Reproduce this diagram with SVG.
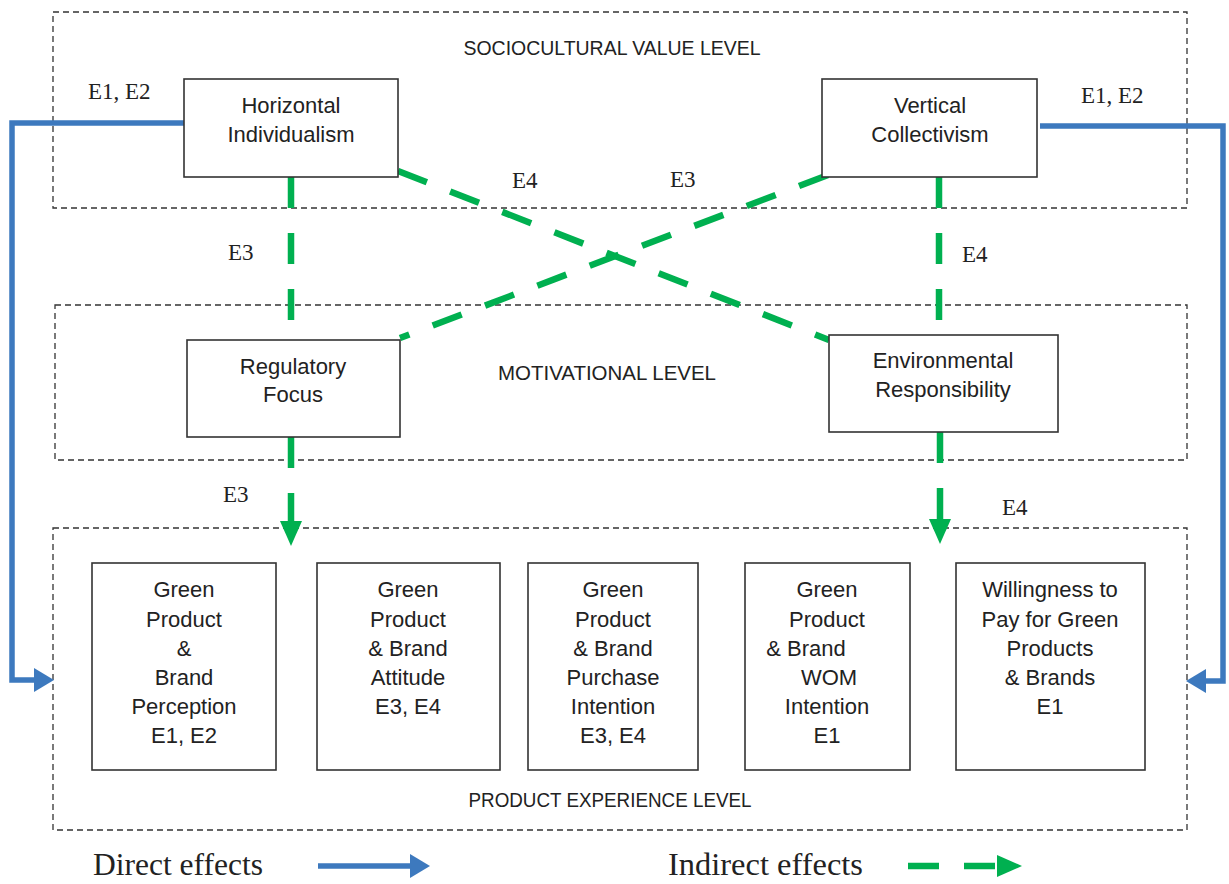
<svg xmlns="http://www.w3.org/2000/svg" width="1229" height="884" viewBox="0 0 1229 884">
  <style>
    .level { fill: none; stroke: #333; stroke-width: 1.3; stroke-dasharray: 6 4; }
    .node { fill: #fff; stroke: #333; stroke-width: 1.6; }
    .ntext { font-family: "Liberation Sans", Arial, sans-serif; font-size: 22px; fill: #222; text-anchor: middle; }
    .ltitle { font-family: "Liberation Sans", Arial, sans-serif; font-size: 19.5px; fill: #222; text-anchor: middle; }
    .elabel { font-family: "Liberation Serif", "DejaVu Serif", serif; font-size: 23px; fill: #222; }
    .legend { font-family: "Liberation Serif", "DejaVu Serif", serif; font-size: 31px; fill: #222; }
    .direct { fill: none; stroke: #3d79be; stroke-width: 5.5; stroke-linejoin: miter; }
    .indirect { fill: none; stroke: #00b050; stroke-width: 6.5; stroke-dasharray: 31 25; }
  </style>
  <defs>
    <marker id="headBlue" markerUnits="userSpaceOnUse" markerWidth="20" markerHeight="26" refX="0" refY="13" orient="auto">
      <polygon points="0,1 20,13 0,25" fill="#3d79be"/>
    </marker>
    <marker id="headGreen" markerUnits="userSpaceOnUse" markerWidth="26" markerHeight="22" refX="0" refY="11" orient="auto">
      <polygon points="0,0 25,11 0,22" fill="#00b050"/>
    </marker>
  </defs>

  <rect width="1229" height="884" fill="#fff"/>

  <!-- level frames -->
  <g id="levels">
    <rect class="level" x="53" y="12" width="1134" height="196"/>
    <text class="ltitle" x="612" y="55" textLength="297" lengthAdjust="spacingAndGlyphs">SOCIOCULTURAL VALUE LEVEL</text>
    <rect class="level" x="55" y="305" width="1132" height="155"/>
    <text class="ltitle" x="607" y="380" textLength="218" lengthAdjust="spacingAndGlyphs">MOTIVATIONAL LEVEL</text>
    <rect class="level" x="53" y="528" width="1134" height="302"/>
    <text class="ltitle" x="610" y="807" textLength="283" lengthAdjust="spacingAndGlyphs">PRODUCT EXPERIENCE LEVEL</text>
  </g>

  <!-- connectors -->
  <g id="connectors">
    <path class="direct" d="M184,123 H12 V680 H34" marker-end="url(#headBlue)"/>
    <path class="direct" d="M1040,126 H1223 V681 H1206" marker-end="url(#headBlue)"/>
    <line class="indirect" x1="291" y1="177" x2="291" y2="320"/>
    <line class="indirect" x1="939" y1="177" x2="939" y2="320"/>
    <line class="indirect" x1="398" y1="171" x2="829" y2="340"/>
    <line class="indirect" x1="828" y1="175" x2="400" y2="338"/>
    <line class="indirect" x1="291" y1="437" x2="291" y2="521" marker-end="url(#headGreen)"/>
    <line class="indirect" x1="940" y1="432" x2="940" y2="519" marker-end="url(#headGreen)"/>
  </g>

  <!-- effect labels -->
  <g id="effect-labels">
    <text class="elabel" x="88" y="99">E1, E2</text>
    <text class="elabel" x="1081" y="103">E1, E2</text>
    <text class="elabel" x="228" y="260">E3</text>
    <text class="elabel" x="962" y="262">E4</text>
    <text class="elabel" x="512" y="188">E4</text>
    <text class="elabel" x="670" y="187">E3</text>
    <text class="elabel" x="223" y="502">E3</text>
    <text class="elabel" x="1002" y="515">E4</text>
  </g>

  <!-- sociocultural nodes -->
  <g id="horizontal-individualism">
    <rect class="node" x="184" y="79" width="214" height="98"/>
    <text class="ntext" x="291" y="113">Horizontal</text>
    <text class="ntext" x="291" y="142">Individualism</text>
  </g>
  <g id="vertical-collectivism">
    <rect class="node" x="822" y="79" width="215" height="98"/>
    <text class="ntext" x="930" y="113">Vertical</text>
    <text class="ntext" x="930" y="142">Collectivism</text>
  </g>

  <!-- motivational nodes -->
  <g id="regulatory-focus">
    <rect class="node" x="187" y="340" width="213" height="97"/>
    <text class="ntext" x="293" y="374">Regulatory</text>
    <text class="ntext" x="293" y="402">Focus</text>
  </g>
  <g id="environmental-responsibility">
    <rect class="node" x="829" y="335" width="229" height="97"/>
    <text class="ntext" x="943" y="368">Environmental</text>
    <text class="ntext" x="943" y="397">Responsibility</text>
  </g>

  <!-- product experience nodes -->
  <g id="perception">
    <rect class="node" x="92" y="563" width="184" height="207"/>
    <text class="ntext" x="184" y="597">Green</text>
    <text class="ntext" x="184" y="627">Product</text>
    <text class="ntext" x="184" y="656">&amp;</text>
    <text class="ntext" x="184" y="685">Brand</text>
    <text class="ntext" x="184" y="714">Perception</text>
    <text class="ntext" x="184" y="743">E1, E2</text>
  </g>
  <g id="attitude">
    <rect class="node" x="317" y="563" width="183" height="207"/>
    <text class="ntext" x="408" y="597">Green</text>
    <text class="ntext" x="408" y="627">Product</text>
    <text class="ntext" x="408" y="656">&amp; Brand</text>
    <text class="ntext" x="408" y="685">Attitude</text>
    <text class="ntext" x="408" y="714">E3, E4</text>
  </g>
  <g id="purchase-intention">
    <rect class="node" x="528" y="563" width="170" height="207"/>
    <text class="ntext" x="613" y="597">Green</text>
    <text class="ntext" x="613" y="627">Product</text>
    <text class="ntext" x="613" y="656">&amp; Brand</text>
    <text class="ntext" x="613" y="685">Purchase</text>
    <text class="ntext" x="613" y="714">Intention</text>
    <text class="ntext" x="613" y="743">E3, E4</text>
  </g>
  <g id="wom-intention">
    <rect class="node" x="745" y="563" width="165" height="207"/>
    <text class="ntext" x="827" y="597">Green</text>
    <text class="ntext" x="827" y="627">Product</text>
    <text class="ntext" x="806" y="656">&amp; Brand</text>
    <text class="ntext" x="829" y="685">WOM</text>
    <text class="ntext" x="827" y="714">Intention</text>
    <text class="ntext" x="827" y="743">E1</text>
  </g>
  <g id="willingness-to-pay">
    <rect class="node" x="956" y="563" width="189" height="207"/>
    <text class="ntext" x="1050" y="597">Willingness to</text>
    <text class="ntext" x="1050" y="627">Pay for Green</text>
    <text class="ntext" x="1050" y="656">Products</text>
    <text class="ntext" x="1050" y="685">&amp; Brands</text>
    <text class="ntext" x="1050" y="714">E1</text>
  </g>

  <!-- legend -->
  <g id="legend">
    <text class="legend" x="93" y="875" textLength="170" lengthAdjust="spacingAndGlyphs">Direct effects</text>
    <line class="direct" x1="318" y1="866" x2="410" y2="866" marker-end="url(#headBlue)"/>
    <text class="legend" x="668" y="875" textLength="195" lengthAdjust="spacingAndGlyphs">Indirect effects</text>
    <line class="indirect" x1="908" y1="866" x2="997" y2="866" marker-end="url(#headGreen)"/>
  </g>
</svg>
